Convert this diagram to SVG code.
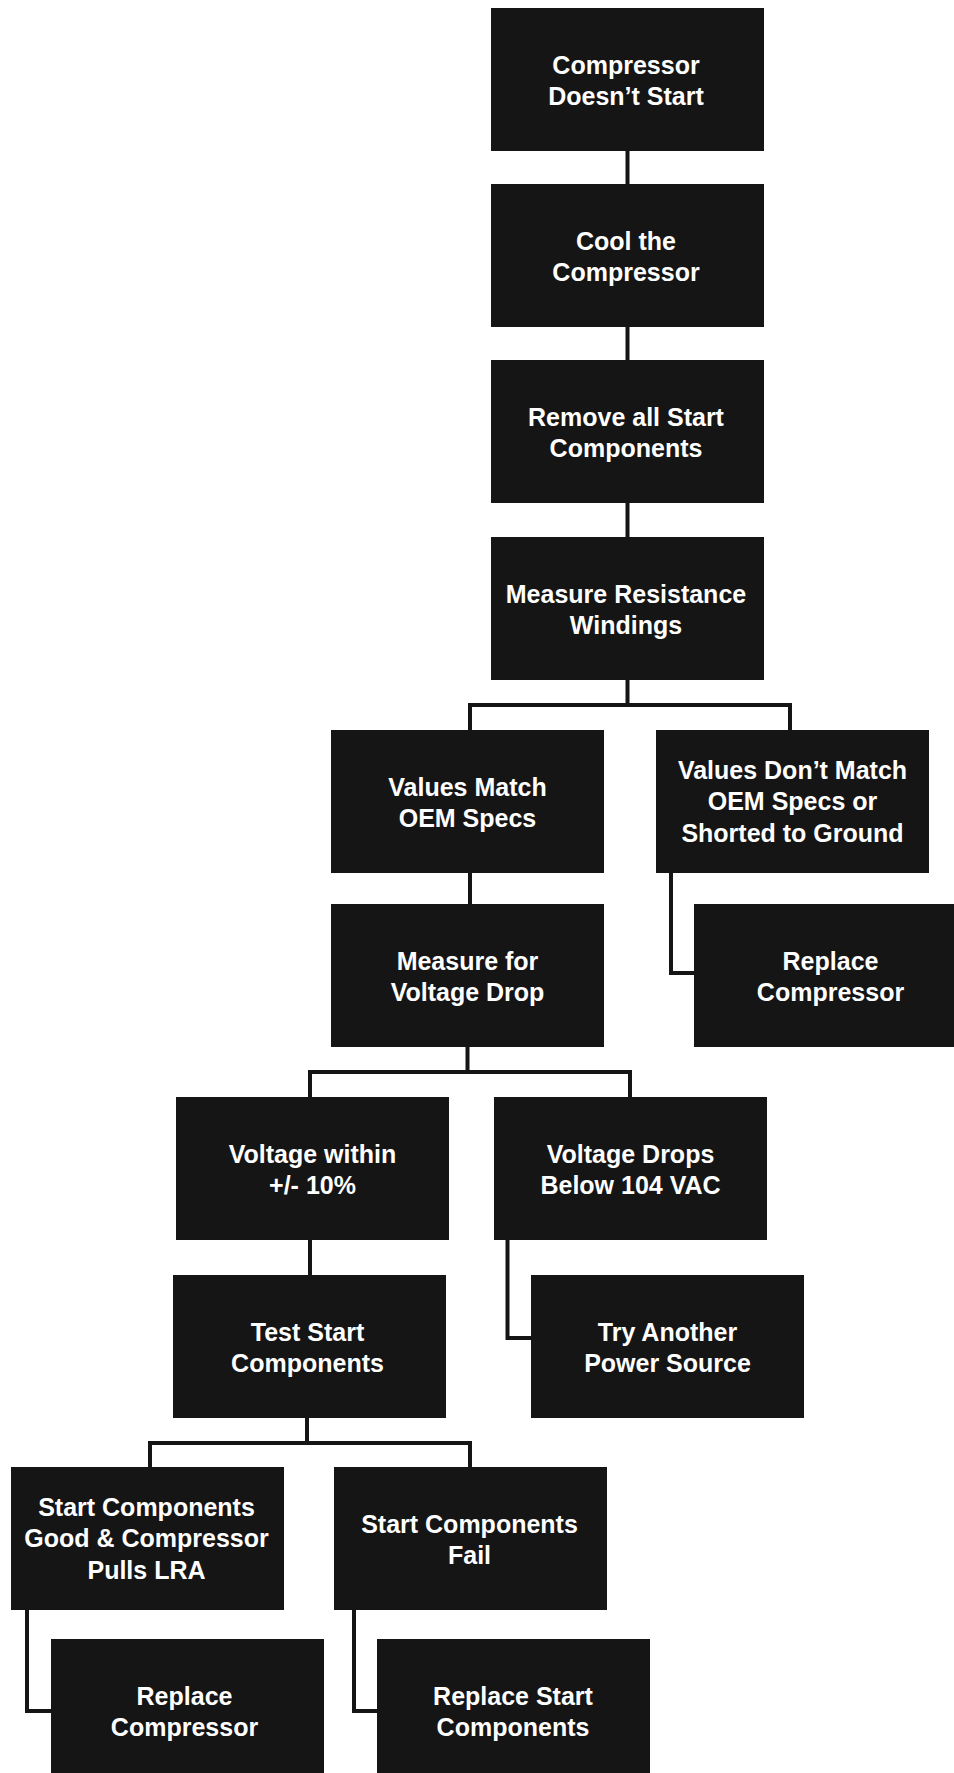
<svg xmlns="http://www.w3.org/2000/svg" width="954" height="1773" viewBox="0 0 954 1773">
<style>
.box{fill:#151515}
.t{fill:#ffffff;font-family:"Liberation Sans",Arial,sans-serif;font-weight:bold;font-size:25px;text-anchor:middle}
.c{fill:none;stroke:#151515;stroke-width:4;stroke-linecap:square}
</style>
<rect width="954" height="1773" fill="#ffffff"/>
<g id="connectors">
<path class="c" d="M627.5 151V184M627.5 327V360M627.5 503V537"/>
<path class="c" d="M627.5 680V705M470 730V705H790V730"/>
<path class="c" d="M470 873V904"/>
<path class="c" d="M671 873V973H694"/>
<path class="c" d="M467.5 1047V1072M310 1097V1072H630V1097"/>
<path class="c" d="M310 1240V1275"/>
<path class="c" d="M507.5 1240V1338H531"/>
<path class="c" d="M307 1418V1443M150 1467V1443H470V1467"/>
<path class="c" d="M27 1610V1711H51"/>
<path class="c" d="M354 1610V1711H377"/>
</g>
<g id="n1"><rect class="box" x="491" y="8" width="273" height="143"/><text class="t" x="626" y="73.5">Compressor</text><text class="t" x="626" y="105">Doesn’t Start</text></g>
<g id="n2"><rect class="box" x="491" y="184" width="273" height="143"/><text class="t" x="626" y="249.5">Cool the</text><text class="t" x="626" y="281">Compressor</text></g>
<g id="n3"><rect class="box" x="491" y="360" width="273" height="143"/><text class="t" x="626" y="425.5">Remove all Start</text><text class="t" x="626" y="457">Components</text></g>
<g id="n4"><rect class="box" x="491" y="537" width="273" height="143"/><text class="t" x="626" y="602.5">Measure Resistance</text><text class="t" x="626" y="634">Windings</text></g>
<g id="n5"><rect class="box" x="331" y="730" width="273" height="143"/><text class="t" x="467.5" y="795.5">Values Match</text><text class="t" x="467.5" y="827">OEM Specs</text></g>
<g id="n6"><rect class="box" x="656" y="730" width="273" height="143"/><text class="t" x="792.5" y="778.5">Values Don’t Match</text><text class="t" x="792.5" y="810">OEM Specs or</text><text class="t" x="792.5" y="841.5">Shorted to Ground</text></g>
<g id="n7"><rect class="box" x="331" y="904" width="273" height="143"/><text class="t" x="467.5" y="969.5">Measure for</text><text class="t" x="467.5" y="1001">Voltage Drop</text></g>
<g id="n8"><rect class="box" x="694" y="904" width="273" height="143"/><text class="t" x="830.5" y="969.5">Replace</text><text class="t" x="830.5" y="1001">Compressor</text></g>
<g id="n9"><rect class="box" x="176" y="1097" width="273" height="143"/><text class="t" x="312.5" y="1162.5">Voltage within</text><text class="t" x="312.5" y="1194">+/- 10%</text></g>
<g id="n10"><rect class="box" x="494" y="1097" width="273" height="143"/><text class="t" x="630.5" y="1162.5">Voltage Drops</text><text class="t" x="630.5" y="1194">Below 104 VAC</text></g>
<g id="n11"><rect class="box" x="173" y="1275" width="273" height="143"/><text class="t" x="307.5" y="1340.5">Test Start</text><text class="t" x="307.5" y="1372">Components</text></g>
<g id="n12"><rect class="box" x="531" y="1275" width="273" height="143"/><text class="t" x="667.5" y="1340.5">Try Another</text><text class="t" x="667.5" y="1372">Power Source</text></g>
<g id="n13"><rect class="box" x="11" y="1467" width="273" height="143"/><text class="t" x="146.5" y="1515.5">Start Components</text><text class="t" x="146.5" y="1547">Good &amp; Compressor</text><text class="t" x="146.5" y="1578.5">Pulls LRA</text></g>
<g id="n14"><rect class="box" x="334" y="1467" width="273" height="143"/><text class="t" x="469.5" y="1532.5">Start Components</text><text class="t" x="469.5" y="1564">Fail</text></g>
<g id="n15"><rect class="box" x="51" y="1639" width="273" height="143"/><text class="t" x="184.5" y="1704.5">Replace</text><text class="t" x="184.5" y="1736">Compressor</text></g>
<g id="n16"><rect class="box" x="377" y="1639" width="273" height="143"/><text class="t" x="513" y="1704.5">Replace Start</text><text class="t" x="513" y="1736">Components</text></g>
</svg>
